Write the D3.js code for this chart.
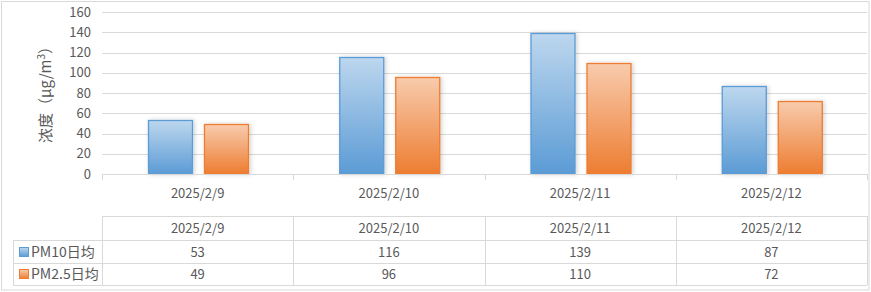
<!DOCTYPE html>
<html>
<head>
<meta charset="utf-8">
<script src="https://cdn.jsdelivr.net/npm/d3@7"></script>
<style>
  html, body { margin: 0; padding: 0; background: #fff; }
  svg text { font-family: "Noto Sans CJK SC", "Noto Sans", sans-serif; fill: #595959; }
</style>
</head>
<body>
<div id="chart"></div>
<script>
"use strict";

// data
var dates = ["2025/2/9", "2025/2/10", "2025/2/11", "2025/2/12"];
var seriesNames = ["PM10日均", "PM2.5日均"];
var pm10 = [53, 116, 139, 87];
var pm25 = [49, 96, 110, 72];
var yTicks = [0, 20, 40, 60, 80, 100, 120, 140, 160];

var W = 871, H = 292;
var plotLeft = 102, plotRight = 867, plotTop = 12, plotBottom = 174;
var gridColor = "#d9d9d9";

var svg = d3.select("#chart").append("svg")
  .attr("width", W).attr("height", H);

var defs = svg.append("defs");
var grads = [
  { id: "gBlue", top: "#bdd7ee", bottom: "#5b9bd5" },
  { id: "gOrange", top: "#f8cbad", bottom: "#ed7d31" }
];
grads.forEach(function (g) {
  var lg = defs.append("linearGradient").attr("id", g.id)
    .attr("x1", 0).attr("y1", 0).attr("x2", 0).attr("y2", 1);
  lg.append("stop").attr("offset", "0%").attr("stop-color", g.top);
  lg.append("stop").attr("offset", "100%").attr("stop-color", g.bottom);
});
var f = defs.append("filter").attr("id", "glow")
  .attr("x", "-30%").attr("y", "-10%").attr("width", "160%").attr("height", "120%");
f.append("feDropShadow").attr("dx", 1.5).attr("dy", 0).attr("stdDeviation", 2)
  .attr("flood-color", "#000").attr("flood-opacity", 0.18);

var fills = ["url(#gBlue)", "url(#gOrange)"];
var strokes = ["#5b9bd5", "#ed7d31"];

// outer chart border
svg.append("rect")
  .attr("x", 1.5).attr("y", 1.5).attr("width", 867.5).attr("height", 288.5)
  .attr("fill", "none").attr("stroke", gridColor);

var x0 = d3.scaleBand().domain(dates).range([plotLeft, plotRight]);
var bw = x0.bandwidth();
var x1 = d3.scaleBand().domain(seriesNames)
  .range([bw / 2 - 50, bw / 2 + 50]).paddingInner(0.23);
var y = d3.scaleLinear().domain([0, 160]).range([plotBottom, plotTop]);

// gridlines
svg.append("g").selectAll("line").data(yTicks.slice(1)).enter().append("line")
  .attr("x1", plotLeft).attr("x2", plotRight)
  .attr("y1", function (d) { return Math.round(y(d)) + 0.5; })
  .attr("y2", function (d) { return Math.round(y(d)) + 0.5; })
  .attr("stroke", gridColor);

// y axis
var yAxis = svg.append("g").attr("transform", "translate(" + (plotLeft - 3) + ",0)")
  .call(d3.axisLeft(y).tickValues(yTicks).tickSize(0).tickPadding(8));
yAxis.select(".domain").remove();
yAxis.selectAll("text").attr("font-size", "13px").style("fill", "#595959")
  .attr("font-family", "'Noto Sans CJK SC', sans-serif");

// y axis title
var title = svg.append("text")
  .attr("transform", "translate(51," + ((plotTop + plotBottom) / 2 - 2) + ") rotate(-90)")
  .attr("text-anchor", "middle")
  .attr("font-size", "15px");
title.append("tspan").text("浓度（μg/m");
title.append("tspan").attr("font-size", "10px").attr("dy", -6).text("3");
title.append("tspan").attr("dy", 6).text("）");

// bars
var rows = [pm10, pm25];
var groups = svg.append("g").selectAll("g").data(dates).enter().append("g")
  .attr("transform", function (d) { return "translate(" + x0(d) + ",0)"; });
groups.selectAll("rect")
  .data(function (d, i) { return seriesNames.map(function (s, k) { return { s: s, k: k, v: rows[k][i] }; }); })
  .enter().append("rect")
  .attr("x", function (d) { return Math.round(x1(d.s)) + 0.5; })
  .attr("y", function (d) { return Math.round(y(d.v)) + 0.5; })
  .attr("width", Math.round(x1.bandwidth()))
  .attr("height", function (d) { return plotBottom - Math.round(y(d.v)) - 0.5; })
  .attr("fill", function (d) { return fills[d.k]; })
  .attr("stroke", function (d) { return strokes[d.k]; })
  .attr("stroke-width", 1.3)
  .attr("filter", "url(#glow)");

// x axis line + category ticks
svg.append("line")
  .attr("x1", plotLeft).attr("x2", plotRight)
  .attr("y1", plotBottom + 0.5).attr("y2", plotBottom + 0.5)
  .attr("stroke", gridColor);
var bounds = dates.map(function (d) { return x0(d); }).concat([plotRight]);
svg.append("g").selectAll("line").data(bounds).enter().append("line")
  .attr("x1", function (d) { return Math.round(d) + 0.5; })
  .attr("x2", function (d) { return Math.round(d) + 0.5; })
  .attr("y1", plotBottom).attr("y2", plotBottom + 6)
  .attr("stroke", gridColor);

svg.append("g").selectAll("text").data(dates).enter().append("text")
  .attr("x", function (d) { return x0(d) + bw / 2; })
  .attr("y", 198)
  .attr("text-anchor", "middle")
  .attr("font-size", "13px")
  .text(function (d) { return d; });

// data table
var tTop = 216, rowH = [24, 23, 22], legLeft = 13;
var rowY = [tTop, tTop + rowH[0], tTop + rowH[0] + rowH[1], tTop + rowH[0] + rowH[1] + rowH[2]];
var tg = svg.append("g").attr("stroke", gridColor).attr("fill", "none");
tg.append("line").attr("x1", plotLeft).attr("x2", plotRight)
  .attr("y1", rowY[0] + 0.5).attr("y2", rowY[0] + 0.5);
[1, 2, 3].forEach(function (r) {
  tg.append("line").attr("x1", legLeft).attr("x2", plotRight)
    .attr("y1", rowY[r] + 0.5).attr("y2", rowY[r] + 0.5);
});
bounds.forEach(function (b) {
  tg.append("line").attr("x1", Math.round(b) + 0.5).attr("x2", Math.round(b) + 0.5)
    .attr("y1", rowY[0]).attr("y2", rowY[3]);
});
tg.append("line").attr("x1", legLeft + 0.5).attr("x2", legLeft + 0.5)
  .attr("y1", rowY[1]).attr("y2", rowY[3]);

// header row
svg.append("g").selectAll("text").data(dates).enter().append("text")
  .attr("x", function (d) { return x0(d) + bw / 2; })
  .attr("y", rowY[0] + 17)
  .attr("text-anchor", "middle").attr("font-size", "13px")
  .text(function (d) { return d; });

// value rows
rows.forEach(function (vals, k) {
  var cy = (rowY[k + 1] + rowY[k + 2]) / 2;
  var g = svg.append("g");
  g.selectAll("text").data(vals).enter().append("text")
    .attr("x", function (d, i) { return x0(dates[i]) + bw / 2; })
    .attr("y", cy + 5)
    .attr("text-anchor", "middle").attr("font-size", "13px")
    .text(function (d) { return d; });
  g.append("rect")
    .attr("x", 19.5).attr("y", Math.round(cy - 5) + 0.5)
    .attr("width", 9).attr("height", 9)
    .attr("fill", fills[k]).attr("stroke", strokes[k]);
  g.append("text")
    .attr("x", 31).attr("y", cy + 5)
    .attr("font-size", "14px")
    .text(seriesNames[k]);
});
</script>
</body>
</html>
